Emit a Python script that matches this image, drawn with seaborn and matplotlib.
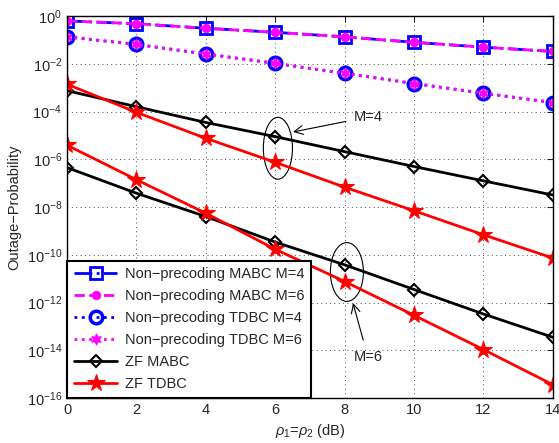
import numpy as np
import pandas as pd
import matplotlib
matplotlib.use("Agg")
import matplotlib.pyplot as plt
import seaborn as sns
from matplotlib.patches import Ellipse
from matplotlib.ticker import NullLocator

# data
snr = [0, 2, 4, 6, 8, 10, 12, 14]
np_mabc_m4 = [0.63, 0.48, 0.31, 0.21, 0.135, 0.08, 0.05, 0.033]
np_mabc_m6 = [0.63, 0.48, 0.31, 0.21, 0.135, 0.08, 0.05, 0.033]
np_tdbc_m4 = [0.135, 0.065, 0.026, 0.0105, 0.004, 0.0015, 5.9e-4, 2.4e-4]
np_tdbc_m6 = [0.135, 0.065, 0.026, 0.0105, 0.004, 0.0015, 5.9e-4, 2.4e-4]
zf_mabc_m4 = [7.5e-4, 1.6e-4, 3.5e-5, 8.9e-6, 2.1e-6, 5e-7, 1.25e-7, 3.2e-8]
zf_tdbc_m4 = [1.4e-3, 9.3e-5, 7.6e-6, 7.5e-7, 6.8e-8, 7e-9, 6.9e-10, 7.3e-11]
zf_mabc_m6 = [4.5e-7, 3.8e-8, 4e-9, 3.4e-10, 3.8e-11, 3.5e-12, 3.3e-13, 3.5e-14]
zf_tdbc_m6 = [3.9e-6, 1.4e-7, 5.5e-9, 1.7e-10, 7.6e-12, 2.9e-13, 1.07e-14, 3.6e-16]
yticks = [10.0**k for k in range(-16, 1, 2)]

sns.set_style("white", {"xtick.direction": "in", "ytick.direction": "in"})
plt.rcParams['font.family'] = ['Liberation Sans', 'DejaVu Sans']
plt.rcParams['mathtext.fontset'] = 'custom'
plt.rcParams['mathtext.rm'] = 'Liberation Sans'
plt.rcParams['mathtext.it'] = 'Liberation Sans:italic'

fig = plt.figure(figsize=(5.59, 4.43), dpi=100)
ax = fig.add_axes([0.12, 0.1016, 0.869, 0.862])

# Non-precoding curves
sns.lineplot(x=snr, y=np_mabc_m4, ax=ax, color='blue', linestyle='-.', lw=2,
             marker='s', ms=8, mfc='none', mec='blue', mew=2,
             label='Non\u2212precoding MABC M=4')
sns.lineplot(x=snr, y=np_mabc_m6, ax=ax, color='magenta', linestyle='--', lw=2,
             marker='o', ms=6, mfc='magenta', mec='magenta',
             label='Non\u2212precoding MABC M=6')
sns.lineplot(x=snr, y=np_tdbc_m4, ax=ax, color='blue', linestyle=':', lw=2,
             marker='o', ms=9, mfc='none', mec='blue', mew=2.5,
             label='Non\u2212precoding TDBC M=4')
sns.lineplot(x=snr, y=np_tdbc_m6, ax=ax, color='magenta', linestyle=':', lw=2,
             marker=(6, 1, 0), ms=8, mfc='magenta', mec='magenta',
             label='Non\u2212precoding TDBC M=6')

# ZF curves
sns.lineplot(x=snr, y=zf_mabc_m4, ax=ax, color='black', lw=2,
             marker='D', ms=6, mfc='none', mec='black', mew=1.5,
             label='ZF MABC')
sns.lineplot(x=snr, y=zf_tdbc_m4, ax=ax, color='red', lw=2,
             marker='*', ms=13, mfc='red', mec='red',
             label='ZF TDBC')
sns.lineplot(x=snr, y=zf_mabc_m6, ax=ax, color='black', lw=2,
             marker='D', ms=6, mfc='none', mec='black', mew=1.5)
sns.lineplot(x=snr, y=zf_tdbc_m6, ax=ax, color='red', lw=2,
             marker='*', ms=13, mfc='red', mec='red')

ax.set_yscale('log')
ax.set_xlim(0, 14)
ax.set_ylim(1e-16, 1)
ax.set_xticks(snr)
ax.set_yticks(yticks)
ax.yaxis.set_minor_locator(NullLocator())
ax.tick_params(which='both', top=True, right=True, labelsize=10.5, length=4)
ax.grid(True, linestyle=(0, (1, 3.5)), color='0.3', lw=0.7)
for s in ax.spines.values():
    s.set_color('black')
    s.set_linewidth(1)

ax.set_xlabel(r'$\rho_1$=$\rho_2$ (dB)', fontsize=10.5)
ax.set_ylabel('Outage\u2212Probability', fontsize=10.5)

# ellipses and arrows
ax.add_patch(Ellipse((0.434, 0.654), 0.06, 0.162, transform=ax.transAxes,
                     fill=False, ec='black', lw=0.8))
ax.add_patch(Ellipse((0.576, 0.330), 0.068, 0.154, transform=ax.transAxes,
                     fill=False, ec='black', lw=0.8))
ax.annotate('M=4', xy=(6.51, 1.4e-5), xytext=(8.67, 5.9e-5), fontsize=10.5,
            ha='center', va='center',
            arrowprops=dict(arrowstyle='->,head_length=0.6,head_width=0.3',
                            color='black', lw=0.8, shrinkA=3, shrinkB=0))
ax.annotate('M=6', xy=(8.24, 10**-12.02), xytext=(8.67, 5.2e-15), fontsize=10.5,
            ha='center', va='center',
            arrowprops=dict(arrowstyle='->,head_length=0.6,head_width=0.3',
                            color='black', lw=0.8, shrinkA=5, shrinkB=0))

leg = ax.legend(loc='lower left', borderaxespad=0, fontsize=10.5, handlelength=3,
                fancybox=False, framealpha=1, edgecolor='black',
                labelspacing=0.55, borderpad=0.45, handletextpad=0.5)
leg.get_frame().set_linewidth(1.5)

plt.savefig("out.png", dpi=100)
